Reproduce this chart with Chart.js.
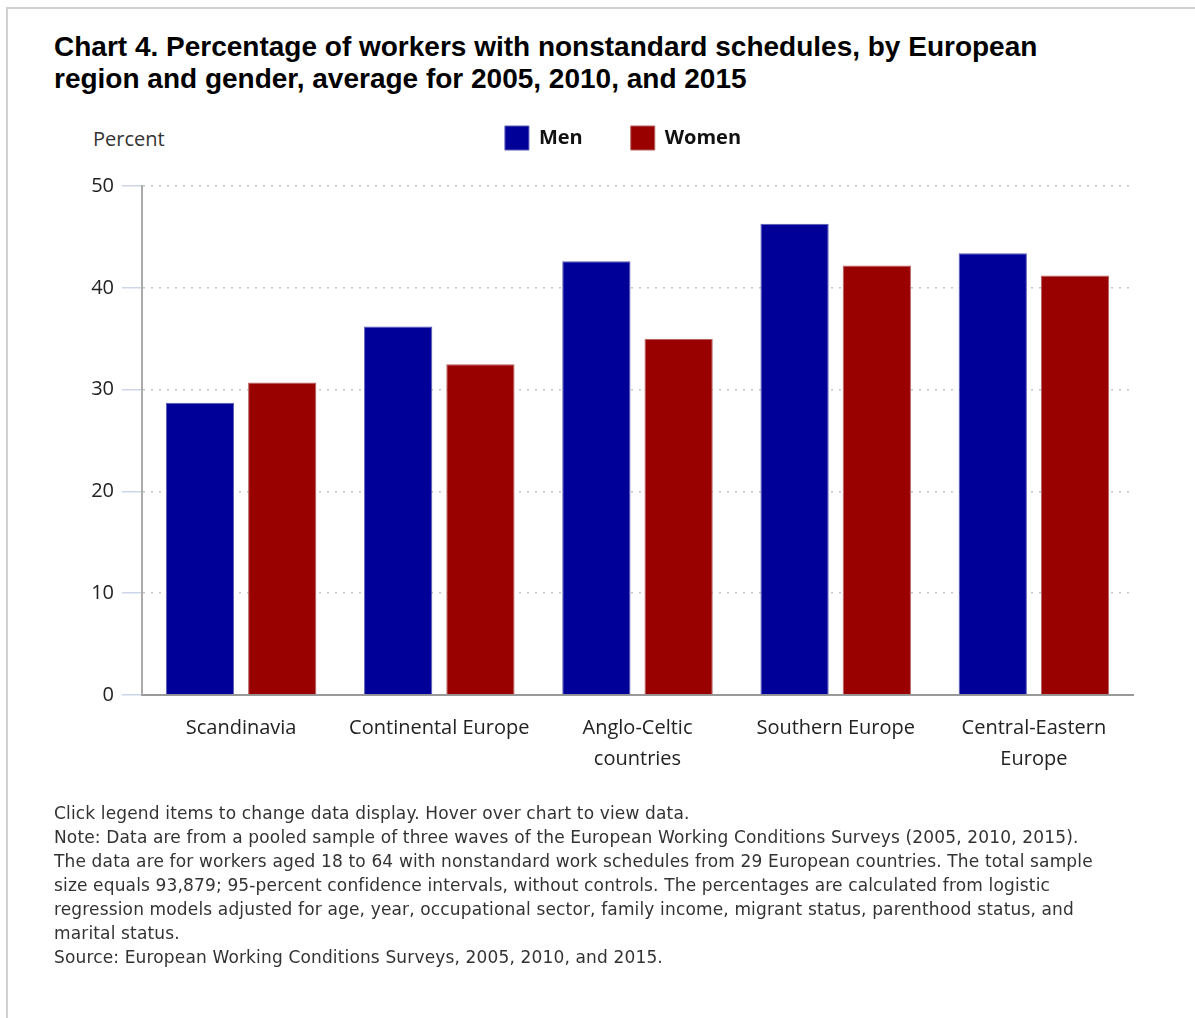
<!DOCTYPE html>
<html>
<head>
<meta charset="utf-8">
<script src="https://cdn.jsdelivr.net/npm/chart.js@4.4.1/dist/chart.umd.min.js"></script>
<style>
  body { margin: 0; background: #fff; width: 1195px; height: 1018px; overflow: hidden; position: relative; }
  .frame { position: absolute; left: 6px; top: 7px; right: -5px; bottom: -5px; border-left: 2px solid #d0d0d0; border-top: 2px solid #d0d0d0; }
  h1 { position: absolute; left: 54px; top: 31px; margin: 0; font: bold 28px "Liberation Sans", Arial, sans-serif; line-height: 32px; color: #000; white-space: nowrap; }
  .unit { position: absolute; left: 93px; top: 125px; font: 20px "Open Sans", sans-serif; color: #333; }
  .wrap { position: absolute; left: 0; top: 78px; width: 1195px; height: 725px; }
  .notes { position: absolute; left: 54px; top: 801px; font: 17px "DejaVu Sans", sans-serif; line-height: 24px; color: #333; letter-spacing: 0.15px; white-space: nowrap; }
</style>
</head>
<body>
<div class="frame"></div>
<h1>Chart 4. Percentage of workers with nonstandard schedules, by European<br>region and gender, average for 2005, 2010, and 2015</h1>
<div class="unit">Percent</div>
<div class="wrap"><canvas id="chart"></canvas></div>
<div class="notes">
Click legend items to change data display. Hover over chart to view data.<br>
Note: Data are from a pooled sample of three waves of the European Working Conditions Surveys (2005, 2010, 2015).<br>
The data are for workers aged 18 to 64 with nonstandard work schedules from 29 European countries. The total sample<br>
size equals 93,879; 95-percent confidence intervals, without controls. The percentages are calculated from logistic<br>
regression models adjusted for age, year, occupational sector, family income, migrant status, parenthood status, and<br>
marital status.<br>
Source: European Working Conditions Surveys, 2005, 2010, and 2015.
</div>
<script>
const regions = [
  'Scandinavia',
  'Continental Europe',
  ['Anglo-Celtic', 'countries'],
  'Southern Europe',
  ['Central-Eastern', 'Europe']
];
const men = [28.7, 36.2, 42.6, 46.3, 43.4];
const women = [30.7, 32.5, 35.0, 42.2, 41.2];
const yTicks = [0, 10, 20, 30, 40, 50];

// extra room between the legend and the plot
const legendGap = {
  id: 'legendGap',
  beforeInit(chart) {
    const fit = chart.legend.fit;
    chart.legend.fit = function () {
      fit.bind(chart.legend)();
      this.height += 26;
    };
  }
};

const ctx = document.getElementById('chart');
new Chart(ctx, {
  type: 'bar',
  data: {
    labels: regions,
    datasets: [{
      label: 'Men',
      data: men,
      backgroundColor: '#000099',
      borderColor: '#5a5ab8',
      borderWidth: 1
    }, {
      label: 'Women',
      data: women,
      backgroundColor: '#990000',
      borderColor: '#b86060',
      borderWidth: 1
    }]
  },
  options: {
    responsive: true,
    maintainAspectRatio: false,
    animation: false,
    layout: {
      padding: { left: 85, right: 34, top: 0, bottom: 10 }
    },
    datasets: {
      bar: { categoryPercentage: 0.83, barPercentage: 0.83 }
    },
    scales: {
      x: {
        grid: { display: false, drawTicks: false },
        border: { color: '#999', width: 2 },
        ticks: {
          color: '#222',
          padding: 18,
          maxRotation: 0,
          autoSkip: false,
          font: { family: 'Open Sans', size: 20, lineHeight: 1.55 }
        }
      },
      y: {
        min: 0,
        max: 50,
        afterFit: (scale) => { scale.width = 57; },
        afterBuildTicks: (scale) => { scale.ticks = yTicks.map(v => ({ value: v })); },
        grid: {
          color: '#c4c4c4',
          lineWidth: 1.5,
          tickLength: 20,
          tickColor: '#ccd6eb',
          tickWidth: 1.5,
          tickBorderDash: []
        },
        border: { color: '#aaa', width: 2, dash: [2, 6] },
        ticks: {
          color: '#222',
          padding: 8,
          font: { family: 'Open Sans', size: 20 }
        }
      },
      spacer: {
        position: 'right',
        afterFit: (scale) => { scale.width = 28; },
        grid: { display: false },
        border: { display: false },
        ticks: { display: false }
      }
    },
    plugins: {
      legend: {
        position: 'top',
        labels: {
          color: '#111',
          boxWidth: 24,
          boxHeight: 24,
          padding: 48,
          font: { family: 'Open Sans', size: 20, weight: 'bold' }
        }
      },
      tooltip: { enabled: true }
    }
  },
  plugins: [legendGap]
});
</script>
</body>
</html>
